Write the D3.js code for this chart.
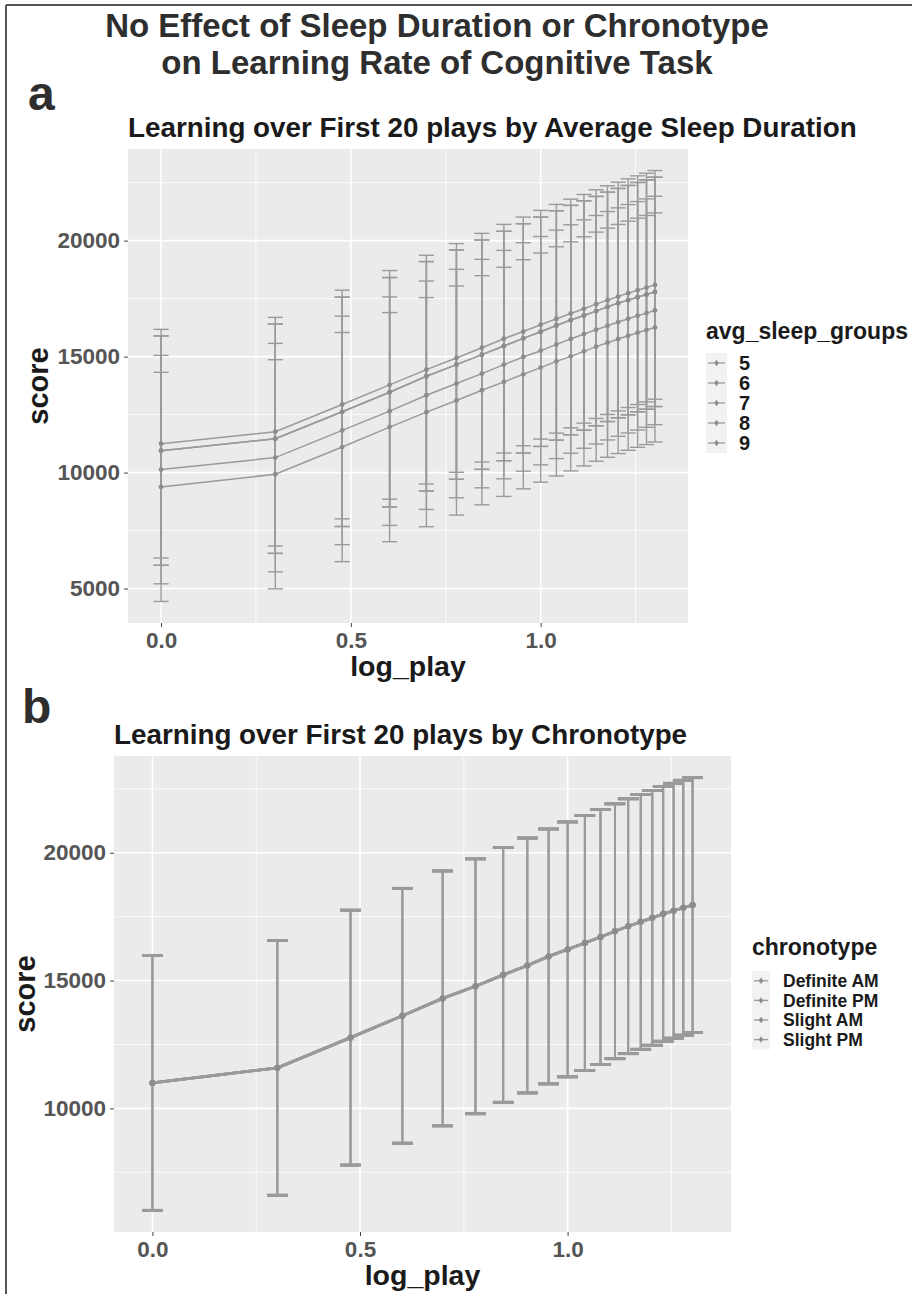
<!DOCTYPE html>
<html>
<head>
<meta charset="utf-8">
<script src="https://cdn.jsdelivr.net/npm/d3@7"></script>
<style>
  body { margin: 0; background: #fff; }
  svg { display: block; font-family: "Liberation Sans", Arial, sans-serif; font-weight: bold; }
</style>
</head>
<body>
<script>
var width = 912,
  height = 1294;

// play number (x is log10 of it)
var plays = [1, 2, 3, 4, 5, 6, 7, 8, 9, 10, 11, 12, 13, 14, 15, 16, 17, 18, 19, 20];

// panel a: mean score per play for each sleep group (two groups overlap)
var sleepGroups = ["5", "6", "7", "8", "9"];
var sleep5 = [10946, 11461, 12620, 13465, 14153, 14655, 15084, 15458, 15785, 16073, 16344, 16576, 16774, 16962, 17147, 17306, 17435, 17564, 17676, 17793];
var sleep6 = [11246, 11762, 12935, 13782, 14440, 14943, 15385, 15772, 16086, 16374, 16632, 16860, 17061, 17263, 17435, 17590, 17736, 17865, 17977, 18093];
var sleep7 = [10946, 11461, 12620, 13465, 14153, 14655, 15084, 15458, 15785, 16073, 16344, 16576, 16774, 16962, 17147, 17306, 17435, 17564, 17676, 17793];
var sleep8 = [10129, 10645, 11818, 12648, 13335, 13838, 14268, 14655, 14986, 15256, 15527, 15759, 15974, 16159, 16331, 16489, 16632, 16761, 16876, 16990];
var sleep9 = [9383, 9927, 11100, 11960, 12605, 13107, 13550, 13911, 14238, 14526, 14796, 15011, 15226, 15429, 15600, 15759, 15901, 16030, 16146, 16257];
var sleepSd = [4945, 4930, 4945, 4925, 4940];

// panel b: the four chronotype groups sit on top of each other
var chronoGroups = ["Definite AM", "Definite PM", "Slight AM", "Slight PM"];
var chronoMean = [10996, 11587, 12768, 13622, 14303, 14776, 15223, 15590, 15945, 16220, 16470, 16706, 16929, 17126, 17296, 17454, 17610, 17730, 17848, 17953];
var chronoSd = 4985;

var xTicks = [0, 0.5, 1.0];
var xMinor = [0.25, 0.75, 1.25];
var yTicks = [5000, 10000, 15000, 20000];
var yMinor = [2500, 7500, 12500, 17500, 22500];

var logPlay = plays.map(function (p) { return Math.log10(p); });

var svg = d3.select("body").append("svg")
  .attr("width", width)
  .attr("height", height);

// frame round the figure
svg.append("line").attr("x1", 6).attr("x2", 6).attr("y1", 5).attr("y2", height)
  .attr("stroke", "#555").attr("stroke-width", 2);
svg.append("line").attr("x1", 6).attr("x2", width).attr("y1", 5).attr("y2", 5)
  .attr("stroke", "#555").attr("stroke-width", 2);

// main title
svg.selectAll(".main-title")
  .data(["No Effect of Sleep Duration or Chronotype", "on Learning Rate of Cognitive Task"])
  .enter().append("text")
  .attr("x", 437)
  .attr("y", function (d, i) { return 37 + i * 37; })
  .attr("text-anchor", "middle")
  .attr("font-size", 33)
  .attr("fill", "#2e2e2e")
  .text(function (d) { return d; });

svg.append("text").attr("x", 28).attr("y", 110).attr("font-size", 48).attr("fill", "#2e2e2e").text("a");
svg.append("text").attr("x", 22).attr("y", 723).attr("font-size", 48).attr("fill", "#2e2e2e").text("b");

function padExtent(ext) {
  var pad = (ext[1] - ext[0]) * 0.05;
  return [ext[0] - pad, ext[1] + pad];
}

function drawPanel(p) {
  var x = d3.scaleLinear()
    .domain(padExtent([-p.capW / 2, d3.max(logPlay) + p.capW / 2]))
    .range([p.left, p.right]);

  var lo = [], hi = [];
  p.series.forEach(function (s) {
    s.mean.forEach(function (m) { lo.push(m - s.sd); hi.push(m + s.sd); });
  });
  var y = d3.scaleLinear()
    .domain(padExtent([d3.min(lo), d3.max(hi)]))
    .range([p.bottom, p.top]);

  var inY = function (v) { return v >= y.domain()[0] && v <= y.domain()[1]; };

  var g = svg.append("g");

  g.append("rect")
    .attr("x", p.left).attr("y", p.top)
    .attr("width", p.right - p.left).attr("height", p.bottom - p.top)
    .attr("fill", "#ebebeb");

  // grid
  g.selectAll(".xminor").data(xMinor).enter().append("line")
    .attr("x1", x).attr("x2", x).attr("y1", p.top).attr("y2", p.bottom)
    .attr("stroke", "#fff").attr("stroke-width", 0.8);
  g.selectAll(".yminor").data(yMinor.filter(inY)).enter().append("line")
    .attr("x1", p.left).attr("x2", p.right).attr("y1", y).attr("y2", y)
    .attr("stroke", "#fff").attr("stroke-width", 0.8);
  g.selectAll(".xmajor").data(xTicks).enter().append("line")
    .attr("x1", x).attr("x2", x).attr("y1", p.top).attr("y2", p.bottom)
    .attr("stroke", "#fff").attr("stroke-width", 1.6);
  g.selectAll(".ymajor").data(yTicks.filter(inY)).enter().append("line")
    .attr("x1", p.left).attr("x2", p.right).attr("y1", y).attr("y2", y)
    .attr("stroke", "#fff").attr("stroke-width", 1.6);

  // axes
  var ax = g.append("g")
    .attr("transform", "translate(" + p.left + ",0)")
    .call(d3.axisLeft(y).tickValues(yTicks.filter(inY)).tickFormat(d3.format("d")).tickSize(4).tickPadding(4));
  var bx = g.append("g")
    .attr("transform", "translate(0," + p.bottom + ")")
    .call(d3.axisBottom(x).tickValues(xTicks).tickFormat(d3.format(".1f")).tickSize(4).tickPadding(5));
  [ax, bx].forEach(function (a) {
    a.select(".domain").remove();
    a.selectAll("line").attr("stroke", "#444");
    a.selectAll("text")
      .attr("font-size", 22.5)
      .attr("font-family", "'Liberation Sans', Arial, sans-serif")
      .attr("font-weight", "bold")
      .attr("fill", "#555");
  });

  // titles
  g.append("text").attr("x", p.left).attr("y", p.top - 12)
    .attr("font-size", 27.8).attr("fill", "#1a1a1a").text(p.title);
  g.append("text").attr("x", (p.left + p.right) / 2).attr("y", p.bottom + 53)
    .attr("text-anchor", "middle").attr("font-size", 28.5).attr("fill", "#1a1a1a").text("log_play");
  g.append("text")
    .attr("transform", "translate(" + p.yTitleX + "," + (p.top + p.bottom) / 2 + ") rotate(-90)")
    .attr("text-anchor", "middle").attr("font-size", 29).attr("fill", "#1a1a1a").text("score");

  // error bars, lines, points
  var line = d3.line()
    .x(function (d, i) { return x(logPlay[i]); })
    .y(function (d) { return y(d); });

  p.series.forEach(function (s) {
    var eb = g.append("g").attr("stroke", "#9a9a9a").attr("fill", "none");
    eb.selectAll(".v").data(s.mean).enter().append("line")
      .attr("x1", function (d, i) { return x(logPlay[i]); })
      .attr("x2", function (d, i) { return x(logPlay[i]); })
      .attr("y1", function (d) { return y(d - s.sd); })
      .attr("y2", function (d) { return y(d + s.sd); })
      .attr("stroke-width", p.barW);
    [-1, 1].forEach(function (sign) {
      eb.selectAll(".c" + sign).data(s.mean).enter().append("line")
        .attr("x1", function (d, i) { return x(logPlay[i] - p.capW / 2); })
        .attr("x2", function (d, i) { return x(logPlay[i] + p.capW / 2); })
        .attr("y1", function (d) { return y(d + sign * s.sd); })
        .attr("y2", function (d) { return y(d + sign * s.sd); })
        .attr("stroke-width", p.capStroke);
    });
  });

  p.series.forEach(function (s) {
    g.append("path")
      .attr("d", line(s.mean))
      .attr("fill", "none")
      .attr("stroke", "#9a9a9a")
      .attr("stroke-width", p.lineW);
    g.selectAll(null).data(s.mean).enter().append("circle")
      .attr("cx", function (d, i) { return x(logPlay[i]); })
      .attr("cy", function (d) { return y(d); })
      .attr("r", p.r)
      .attr("fill", "#8c8c8c");
  });

  // legend
  var lg = svg.append("g");
  lg.append("text").attr("x", p.legX).attr("y", p.legTitleY)
    .attr("font-size", 23).attr("fill", "#1a1a1a").text(p.legTitle);
  var row = lg.selectAll(".row").data(p.groups).enter().append("g")
    .attr("transform", function (d, i) { return "translate(" + p.legX + "," + (p.legTop + i * p.keyH) + ")"; });
  row.append("rect").attr("width", p.keyW).attr("height", p.keyH).attr("fill", "#f2f2f2");
  row.append("line").attr("x1", 2).attr("x2", p.keyW - 2)
    .attr("y1", p.keyH / 2).attr("y2", p.keyH / 2)
    .attr("stroke", "#9a9a9a").attr("stroke-width", 1.3);
  row.append("line").attr("x1", p.keyW / 2).attr("x2", p.keyW / 2)
    .attr("y1", p.keyH / 2 - 3).attr("y2", p.keyH / 2 + 3)
    .attr("stroke", "#9a9a9a").attr("stroke-width", 1.3);
  row.append("circle").attr("cx", p.keyW / 2).attr("cy", p.keyH / 2).attr("r", 2)
    .attr("fill", "#8c8c8c");
  row.append("text").attr("x", p.keyW + p.labGap).attr("y", p.keyH / 2 + p.labSize * 0.35)
    .attr("font-size", p.labSize).attr("fill", "#1a1a1a")
    .text(function (d) { return d; });
}

drawPanel({
  title: "Learning over First 20 plays by Average Sleep Duration",
  left: 128, right: 688, top: 149, bottom: 623,
  yTitleX: 48,
  capW: 0.04, capStroke: 1.4, barW: 1.4, lineW: 1.5, r: 2.4,
  series: [sleep5, sleep6, sleep7, sleep8, sleep9].map(function (m, i) {
    return { group: sleepGroups[i], mean: m, sd: sleepSd[i] };
  }),
  groups: sleepGroups,
  legTitle: "avg_sleep_groups",
  legX: 706, legTitleY: 339, legTop: 353, keyW: 21, keyH: 20, labGap: 12, labSize: 20
});

drawPanel({
  title: "Learning over First 20 plays by Chronotype",
  left: 114, right: 731, top: 756, bottom: 1232,
  yTitleX: 35,
  capW: 0.05, capStroke: 2.8, barW: 1.7, lineW: 2.8, r: 3,
  series: chronoGroups.map(function (c) {
    return { group: c, mean: chronoMean, sd: chronoSd };
  }),
  groups: chronoGroups,
  legTitle: "chronotype",
  legX: 752, legTitleY: 955, legTop: 971, keyW: 18, keyH: 19.6, labGap: 13, labSize: 17.5
});
</script>
</body>
</html>
